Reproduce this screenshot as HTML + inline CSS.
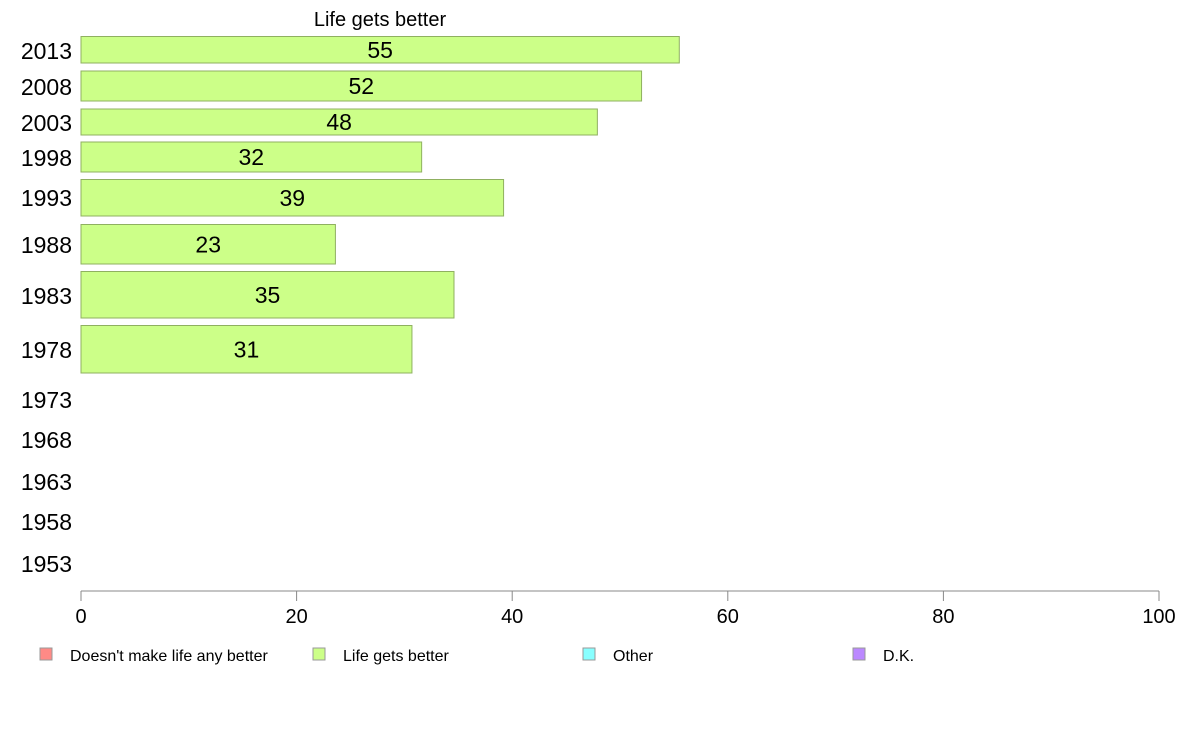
<!DOCTYPE html>
<html><head><meta charset="utf-8">
<style>
html,body{margin:0;padding:0;background:#fff;}
svg{display:block;font-family:"Liberation Sans",Arial,sans-serif;}
</style></head>
<body>
<svg id="chart" width="1188" height="736" viewBox="0 0 1188 736" xmlns="http://www.w3.org/2000/svg">
  <text x="380" y="26" font-size="20" text-anchor="middle">Life gets better</text>
  <g id="bars"></g>
  <g id="ylabels"></g>
  <g id="xaxis"></g>
  <g id="legend"></g>
</svg>
<script>
const categories = ["2013","2008","2003","1998","1993","1988","1983","1978","1973","1968","1963","1958","1953"];
const values = [55.5, 52, 47.9, 31.6, 39.2, 23.6, 34.6, 30.7, null, null, null, null, null];
const valueLabels = ["55","52","48","32","39","23","35","31","","","","",""];
const xTicks = [0,20,40,60,80,100];
const legendLabels = ["Doesn't make life any better","Life gets better","Other","D.K."];
const legendColors = ["#ff8a86","#ccff88","#88ffff","#bb88ff"];

// layout (band positions per row: top, bottom, label-center) – not data
const bandTop =    [36.5, 71, 109, 142, 179.5, 224.5, 271.5, 325.5, 380, 420, 462, 502, 544];
const bandBottom = [63, 101, 135, 172, 216, 264, 318, 373, 420, 460, 502, 542, 584];
const labelY =     [51, 87, 123, 158, 198, 245, 296, 350, 400, 440, 482, 522, 564];

const NS = "http://www.w3.org/2000/svg";
const x0 = 81, x1 = 1159;
function xScale(v){ return x0 + (v/100)*(x1-x0); }
function mk(tag, attrs, parent){ const e=document.createElementNS(NS,tag); for(const k in attrs) e.setAttribute(k,attrs[k]); parent.appendChild(e); return e; }

const bars = document.getElementById("bars");
const yl = document.getElementById("ylabels");
categories.forEach((c,i)=>{
  const t = mk("text",{x:72,y:labelY[i]+8,"font-size":23,"text-anchor":"end"},yl);
  t.textContent = c;
  
  
  const v = values[i];
  if(v==null) return;
  const r = mk("rect",{x:x0,y:bandTop[i],width:xScale(v)-x0,height:bandBottom[i]-bandTop[i],fill:"#ccff88",stroke:"#8fb060","stroke-width":1},bars);
  
  
  const lt = mk("text",{x:(x0+xScale(v))/2,y:(bandTop[i]+bandBottom[i])/2+8,"font-size":23,"text-anchor":"middle"},bars);
  lt.textContent = valueLabels[i];
  
  
});

const xa = document.getElementById("xaxis");
const axl = mk("line",{x1:x0,x2:x1,y1:591,y2:591,stroke:"#888","stroke-width":1},xa);


xTicks.forEach(t=>{
  const x = xScale(t);
  const tk = mk("line",{x1:x,x2:x,y1:591,y2:601,stroke:"#888","stroke-width":1},xa);
  
  
  const tl = mk("text",{x:x,y:623,"font-size":20,"text-anchor":"middle"},xa);
  tl.textContent = t;
  
  
});

const lg = document.getElementById("legend");
const legendX = [40,313,583,853];
legendLabels.forEach((l,i)=>{
  const g = mk("g",{},lg);
  
  
  mk("rect",{x:legendX[i],y:648,width:12,height:12,fill:legendColors[i],stroke:"#999","stroke-width":1},g);
  const t = mk("text",{x:legendX[i]+30,y:661,"font-size":16},g);
  t.textContent = l;
});
</script>
</body></html>
